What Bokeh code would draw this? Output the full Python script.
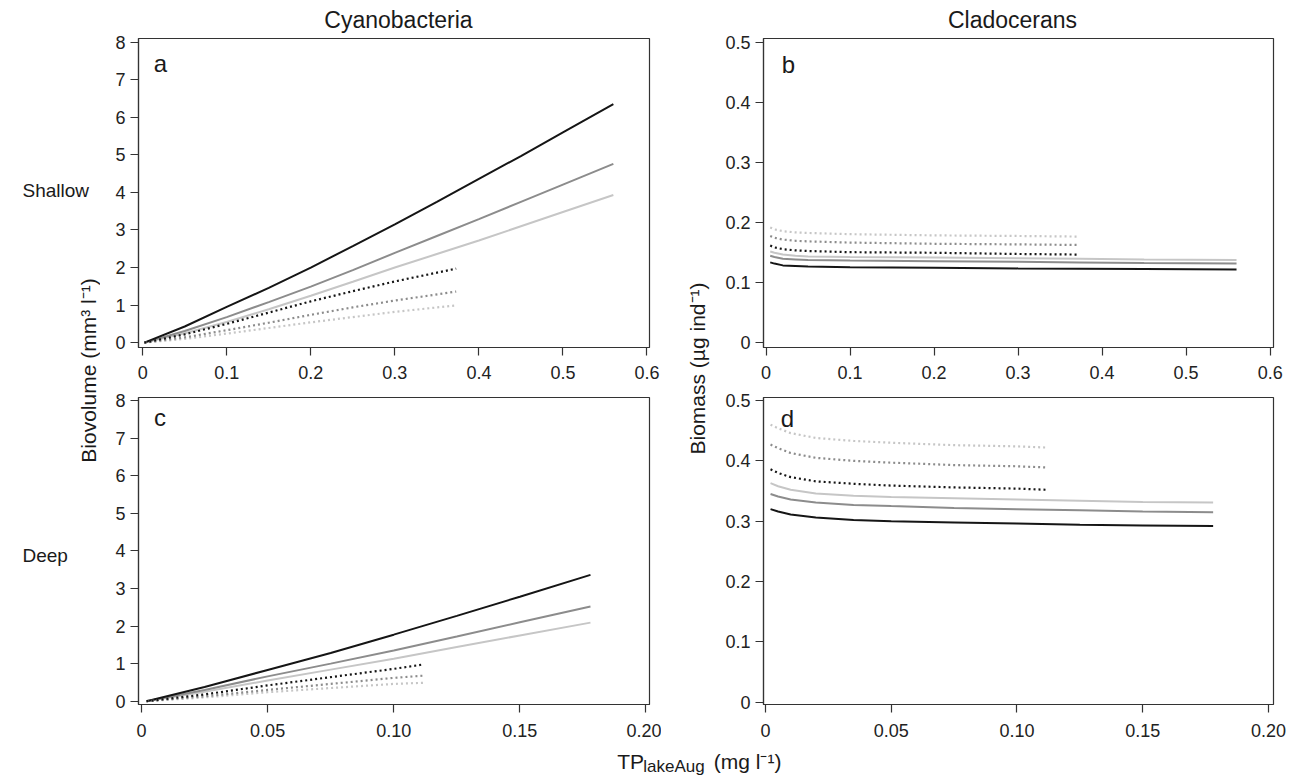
from bokeh.plotting import figure
from bokeh.models import Range1d, FixedTicker, Label
from bokeh.layouts import row, column
from bokeh.embed import file_html
from bokeh.resources import INLINE
import math

FONT = "Liberation Sans"
C_BLACK = "#151515"
C_GRAY = "#8c8c8c"
C_LIGHT = "#c6c6c6"
FRAME = "#333333"

# ---------------- data ----------------
# Panel a: Shallow lakes, cyanobacteria biovolume (mm3 l-1) vs TP (mg l-1)
a_x_long = [0.002, 0.05, 0.10, 0.15, 0.20, 0.25, 0.30, 0.35, 0.40, 0.45, 0.50, 0.56]
a_solid_black = [0.0, 0.43, 0.95, 1.46, 2.00, 2.57, 3.15, 3.75, 4.36, 4.97, 5.60, 6.35]
a_solid_gray = [0.0, 0.31, 0.68, 1.08, 1.49, 1.93, 2.39, 2.84, 3.29, 3.75, 4.21, 4.76]
a_solid_light = [0.0, 0.25, 0.55, 0.89, 1.25, 1.62, 2.00, 2.36, 2.72, 3.10, 3.48, 3.93]
a_x_short = [0.002, 0.05, 0.10, 0.15, 0.20, 0.25, 0.30, 0.373]
a_dot_black = [0.0, 0.22, 0.50, 0.80, 1.10, 1.37, 1.63, 1.97]
a_dot_gray = [0.0, 0.14, 0.33, 0.53, 0.74, 0.94, 1.12, 1.36]
a_dot_light = [0.0, 0.10, 0.24, 0.39, 0.54, 0.68, 0.82, 0.99]

# Panel b: Shallow lakes, cladoceran biomass (ug ind-1)
b_x_long = [0.005, 0.01, 0.02, 0.035, 0.05, 0.10, 0.20, 0.30, 0.373, 0.45, 0.56]
b_solid_black = [0.134, 0.132, 0.129, 0.128, 0.127, 0.126, 0.125, 0.124, 0.1235, 0.123, 0.122]
b_solid_gray = [0.145, 0.143, 0.140, 0.139, 0.138, 0.137, 0.136, 0.135, 0.134, 0.133, 0.132]
b_solid_light = [0.152, 0.150, 0.147, 0.145, 0.144, 0.143, 0.142, 0.141, 0.140, 0.139, 0.138]
b_x_short = [0.005, 0.01, 0.02, 0.035, 0.05, 0.10, 0.20, 0.30, 0.373]
b_dot_black = [0.162, 0.159, 0.156, 0.154, 0.153, 0.151, 0.150, 0.148, 0.147]
b_dot_gray = [0.178, 0.175, 0.172, 0.170, 0.169, 0.167, 0.165, 0.164, 0.163]
b_dot_light = [0.192, 0.189, 0.186, 0.184, 0.183, 0.181, 0.179, 0.178, 0.177]

# Panel c: Deep lakes, cyanobacteria biovolume
c_x_long = [0.002, 0.025, 0.05, 0.075, 0.10, 0.125, 0.15, 0.178]
c_solid_black = [0.0, 0.38, 0.83, 1.28, 1.77, 2.27, 2.78, 3.36]
c_solid_gray = [0.0, 0.30, 0.66, 1.00, 1.35, 1.72, 2.10, 2.52]
c_solid_light = [0.0, 0.25, 0.55, 0.84, 1.13, 1.44, 1.75, 2.09]
c_x_short = [0.002, 0.025, 0.05, 0.075, 0.10, 0.112]
c_dot_black = [0.0, 0.18, 0.42, 0.64, 0.86, 0.98]
c_dot_gray = [0.0, 0.13, 0.30, 0.46, 0.62, 0.68]
c_dot_light = [0.0, 0.10, 0.24, 0.35, 0.46, 0.49]

# Panel d: Deep lakes, cladoceran biomass
d_x_long = [0.002, 0.005, 0.01, 0.02, 0.035, 0.05, 0.075, 0.10, 0.125, 0.15, 0.178]
d_solid_black = [0.320, 0.316, 0.311, 0.306, 0.302, 0.300, 0.298, 0.296, 0.294, 0.293, 0.292]
d_solid_gray = [0.345, 0.341, 0.336, 0.331, 0.327, 0.325, 0.322, 0.320, 0.318, 0.316, 0.315]
d_solid_light = [0.363, 0.358, 0.352, 0.346, 0.342, 0.340, 0.338, 0.336, 0.334, 0.332, 0.331]
d_x_short = [0.002, 0.005, 0.01, 0.02, 0.035, 0.05, 0.075, 0.10, 0.112]
d_dot_black = [0.386, 0.380, 0.373, 0.366, 0.362, 0.359, 0.356, 0.354, 0.352]
d_dot_gray = [0.427, 0.421, 0.413, 0.405, 0.400, 0.397, 0.393, 0.391, 0.389]
d_dot_light = [0.460, 0.454, 0.446, 0.438, 0.433, 0.430, 0.426, 0.424, 0.422]

# ticks
x_ticks_shallow = [0, 0.1, 0.2, 0.3, 0.4, 0.5, 0.6]
x_labels_shallow = ["0", "0.1", "0.2", "0.3", "0.4", "0.5", "0.6"]
x_ticks_deep = [0, 0.05, 0.1, 0.15, 0.2]
x_labels_deep = ["0", "0.05", "0.10", "0.15", "0.20"]
y_ticks_cyano = [0, 1, 2, 3, 4, 5, 6, 7, 8]
y_labels_cyano = ["0", "1", "2", "3", "4", "5", "6", "7", "8"]
y_ticks_clad = [0, 0.1, 0.2, 0.3, 0.4, 0.5]
y_labels_clad = ["0", "0.1", "0.2", "0.3", "0.4", "0.5"]

TICK_FS = "18px"


def panel(xr, yr, xt, xl, yt, yl, fh, top, bottom, left, right, fw, xstand):
    p = figure(frame_width=fw, frame_height=fh,
               x_range=Range1d(*xr), y_range=Range1d(*yr),
               output_backend="svg", toolbar_location=None,
               min_border_top=top, min_border_bottom=bottom,
               min_border_left=left, min_border_right=right)
    p.grid.visible = False
    p.outline_line_color = FRAME
    p.outline_line_width = 1.2
    p.background_fill_color = "white"
    p.border_fill_color = "white"
    p.xaxis.ticker = FixedTicker(ticks=xt)
    p.xaxis.major_label_overrides = {t: s for t, s in zip(xt, xl)}
    p.yaxis.ticker = FixedTicker(ticks=yt)
    p.yaxis.major_label_overrides = {t: s for t, s in zip(yt, yl)}
    for ax in (p.xaxis[0], p.yaxis[0]):
        ax.axis_line_color = FRAME
        ax.axis_line_width = 1.2
        ax.major_tick_line_color = FRAME
        ax.major_tick_line_width = 1.2
        ax.major_tick_in = 0
        ax.major_tick_out = 8
        ax.minor_tick_line_color = None
        ax.major_label_text_font = FONT
        ax.major_label_text_font_size = TICK_FS
        ax.major_label_text_color = "#222222"
    p.xaxis.major_label_standoff = xstand
    p.yaxis.major_label_standoff = 5
    return p


def draw(p, xl, sb, sg, sl, xs, db, dg, dl):
    p.line(xl, sl, line_color=C_LIGHT, line_width=2)
    p.line(xl, sg, line_color=C_GRAY, line_width=2)
    p.line(xl, sb, line_color=C_BLACK, line_width=2)
    p.line(xs, dl, line_color=C_LIGHT, line_width=2.2, line_dash="2 3")
    p.line(xs, dg, line_color=C_GRAY, line_width=2.2, line_dash="2 3")
    p.line(xs, db, line_color=C_BLACK, line_width=2.2, line_dash="2 3")


def lab(p, x, y, text, size, align="left", angle=0.0):
    p.add_layout(Label(x=x, y=y, text=text, text_font=FONT, text_font_size=size,
                       text_align=align, text_baseline="middle", angle=angle,
                       text_color="#1a1a1a"))


# panels
pa = panel((-0.005, 0.603), (-0.13, 8.1), x_ticks_shallow, x_labels_shallow,
           y_ticks_cyano, y_labels_cyano, 309, 5, 40, 38, 12, 511, 10)
draw(pa, a_x_long, a_solid_black, a_solid_gray, a_solid_light,
     a_x_short, a_dot_black, a_dot_gray, a_dot_light)
lab(pa, 0.013, 7.43, "a", "24px")

pb = panel((-0.003, 0.604), (-0.0078, 0.507), x_ticks_shallow, x_labels_shallow,
           y_ticks_clad, y_labels_clad, 309, 5, 40, 53, 14, 510, 10)
draw(pb, b_x_long, b_solid_black, b_solid_gray, b_solid_light,
     b_x_short, b_dot_black, b_dot_gray, b_dot_light)
lab(pb, 0.0187, 0.463, "b", "24px")

pc = panel((-0.0012, 0.2014), (-0.088, 8.08), x_ticks_deep, x_labels_deep,
           y_ticks_cyano, y_labels_cyano, 307, 10, 42, 38, 12, 511, 11)
draw(pc, c_x_long, c_solid_black, c_solid_gray, c_solid_light,
     c_x_short, c_dot_black, c_dot_gray, c_dot_light)
lab(pc, 0.0049, 7.545, "c", "24px")

pd = panel((-0.0008, 0.202), (-0.0038, 0.505), x_ticks_deep, x_labels_deep,
           y_ticks_clad, y_labels_clad, 307, 10, 42, 53, 14, 510, 11)
draw(pd, d_x_long, d_solid_black, d_solid_gray, d_solid_light,
     d_x_short, d_dot_black, d_dot_gray, d_dot_light)
lab(pd, 0.0061, 0.470, "d", "24px")


def text_fig(w, h, x0, y0):
    f = figure(width=w, height=h, x_range=Range1d(x0, x0 + w), y_range=Range1d(y0 + h, y0),
               output_backend="svg", toolbar_location=None,
               x_axis_type=None, y_axis_type=None,
               min_border_left=0, min_border_right=0, min_border_top=0, min_border_bottom=0)
    f.grid.visible = False
    f.outline_line_color = None
    f.background_fill_color = "white"
    f.border_fill_color = "white"
    return f


top = text_fig(1287, 33, 0, 0)
lab(top, 398, 19, "Cyanobacteria", "23px", "center")
lab(top, 1012, 19, "Cladocerans", "23px", "center")

left = text_fig(100, 713, 0, 33)
lab(left, 22, 190, "Shallow", "19px", "left")
lab(left, 22, 555, "Deep", "19px", "left")
lab(left, 88, 370, "Biovolume (mm\u00b3 l\u207b\u00b9)", "21px", "center", math.pi / 2)

mid = text_fig(49, 713, 661, 33)
lab(mid, 697, 368, "Biomass (\u00b5g ind\u207b\u00b9)", "21px", "center", math.pi / 2)

bottom = text_fig(1287, 31, 0, 746)
lab(bottom, 616.7, 760.5, "TP", "21px")
lab(bottom, 642.7, 766.0, "lakeAug", "17px")
lab(bottom, 713.3, 760.5, "(mg l\u207b\u00b9)", "21px")

layout = column(top, row(left, column(pa, pc), mid, column(pb, pd)), bottom)

open("out.html", "w").write(file_html(layout, INLINE))
